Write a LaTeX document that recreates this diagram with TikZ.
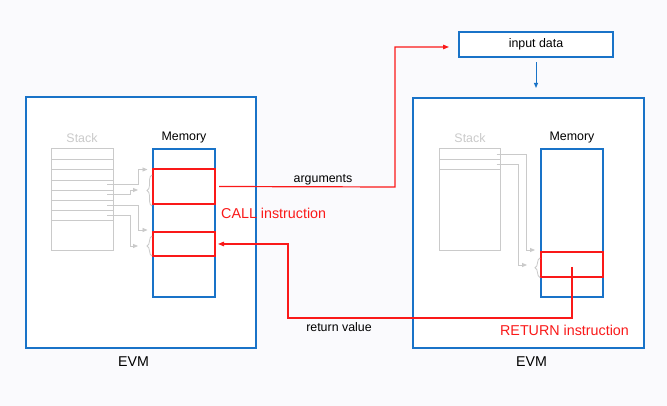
\documentclass[tikz,border=0pt]{standalone}
\usepackage{fontspec}
\setmainfont{Liberation Sans}
\usetikzlibrary{arrows.meta,decorations.pathreplacing}
\definecolor{evmblue}{RGB}{25,115,200}
\definecolor{evmred}{RGB}{250,25,25}
\definecolor{stk}{RGB}{202,202,202}
\definecolor{bgc}{RGB}{250,250,253}
\begin{document}
\begin{tikzpicture}[x=1pt,y=-1pt,
  box/.style={draw=evmblue, line width=1.3pt, inner sep=0pt, outer sep=0pt, anchor=north west},
  redbox/.style={draw=evmred, line width=1.3pt, inner sep=0pt, outer sep=0pt, anchor=north west},
  stackbox/.style={draw=stk, line width=1pt, inner sep=0pt, outer sep=0pt, anchor=north west},
  stkline/.style={draw=stk, line width=0.8pt},
  stkarrow/.style={draw=stk, line width=0.8pt, -{Triangle[length=5pt,width=4pt]}},
  stkbrace/.style={draw=stk, line width=0.8pt, decorate, decoration={brace, amplitude=5pt}},
  redline/.style={draw=evmred, line width=1.2pt, -{Triangle[length=6pt,width=4.5pt]}},
  lbl/.style={font=\fontsize{12.4}{14}\selectfont, inner sep=1pt},
  evmlbl/.style={font=\fontsize{14.2}{16}\selectfont, inner sep=1pt},
  redlbl/.style={font=\fontsize{14.3}{16}\selectfont, text=evmred, inner sep=1pt}
]
\fill[bgc] (0,0) rectangle (667,406);
\useasboundingbox (0,0) rectangle (667,406);

% ---------- left EVM ----------
\node[box, fill=white, minimum width=230pt, minimum height=251pt] (evmL) at (26,97) {};
\node[evmlbl] (evmLlbl) at (133.5,361.5) {EVM};
\node[lbl, text=stk] (stkLlbl) at (82,138) {Stack};
\node[lbl] (memLlbl) at (184,138) {Memory};
\node[stackbox, minimum width=62pt, minimum height=102pt] (stkL) at (51,149) {};
\foreach \yy in {159,169,180,190,200,210,220}
  \draw[stkline] (51,\yy) -- (113,\yy);
\node[box, minimum width=62pt, minimum height=148pt] (memL) at (153,149) {};
\node[redbox, minimum width=62pt, minimum height=35pt] (callbox) at (153,169) {};
\node[redbox, minimum width=62pt, minimum height=24pt] (retbox) at (153,232) {};

\coordinate (s1) at (107,184.5);
\coordinate (s2) at (107,194.5);
\coordinate (s3) at (107,205);
\coordinate (s4) at (107,215);
\draw[stkarrow] (s1) -- (138,184.5) -- (138,169.5) -- (147.5,169.5);
\draw[stkarrow] (s2) -- (130,194.5) -- (130,190) -- (138,190);
\draw[stkarrow] (s3) -- (138,205) -- (138,230) -- (147.5,230);
\draw[stkarrow] (s4) -- (130,215) -- (130,246) -- (138,246);
\draw[stkbrace] (152,206) -- (152,175);
\draw[stkbrace] (152,256) -- (152,236);

% ---------- right EVM ----------
\node[box, fill=white, minimum width=231pt, minimum height=250pt] (evmR) at (413,98) {};
\node[evmlbl] (evmRlbl) at (531.5,361.5) {EVM};
\node[lbl, text=stk] (stkRlbl) at (470,138) {Stack};
\node[lbl] (memRlbl) at (572,138) {Memory};
\node[stackbox, minimum width=61pt, minimum height=102pt] (stkR) at (439,149) {};
\foreach \yy in {159,169}
  \draw[stkline] (439,\yy) -- (500,\yy);
\node[box, minimum width=62pt, minimum height=148pt] (memR) at (541,149) {};
\node[redbox, minimum width=62pt, minimum height=25pt] (rbox) at (541,252) {};

\coordinate (r1) at (496.5,154.5);
\coordinate (r2) at (496.5,164.5);
\draw[stkarrow] (r1) -- (526.5,154.5) -- (526.5,250) -- (535,250);
\draw[stkarrow] (r2) -- (518.5,164.5) -- (518.5,265) -- (527,265);
\draw[stkbrace] (540,277.5) -- (540,258);

% ---------- input data ----------
\node[box, fill=white, minimum width=154pt, minimum height=25pt] (inp) at (459,32) {};
\node[font=\fontsize{12.4}{14}\selectfont, inner sep=0pt] (inplbl) at (inp.center) {input data};
\draw[draw=evmblue, line width=1pt, -{Triangle[length=5pt,width=4pt]}] ([yshift=-5.5pt]inp.south) -- ([yshift=10pt]evmR.north -| inp.south);

% ---------- red connectors ----------
\draw[redline] ([xshift=4pt]callbox.east) -- (395,187) -- (395,47) -- ([xshift=-10pt]inp.west |- 0,47);
\node[lbl, anchor=south] (arglbl) at (323,186.5) {arguments};
\node[redlbl, anchor=west] (calllbl) at (220,213) {CALL instruction};

\coordinate (rstart) at (572,267);
\draw[redline] (rstart) -- (572,318) -- (288,318) -- (288,244) -- ([xshift=3pt]retbox.east);
\node[lbl] (retlbl) at (339,327) {return value};
\node[redlbl] (returnlbl) at (564.5,330) {RETURN instruction};
\end{tikzpicture}
\end{document}
